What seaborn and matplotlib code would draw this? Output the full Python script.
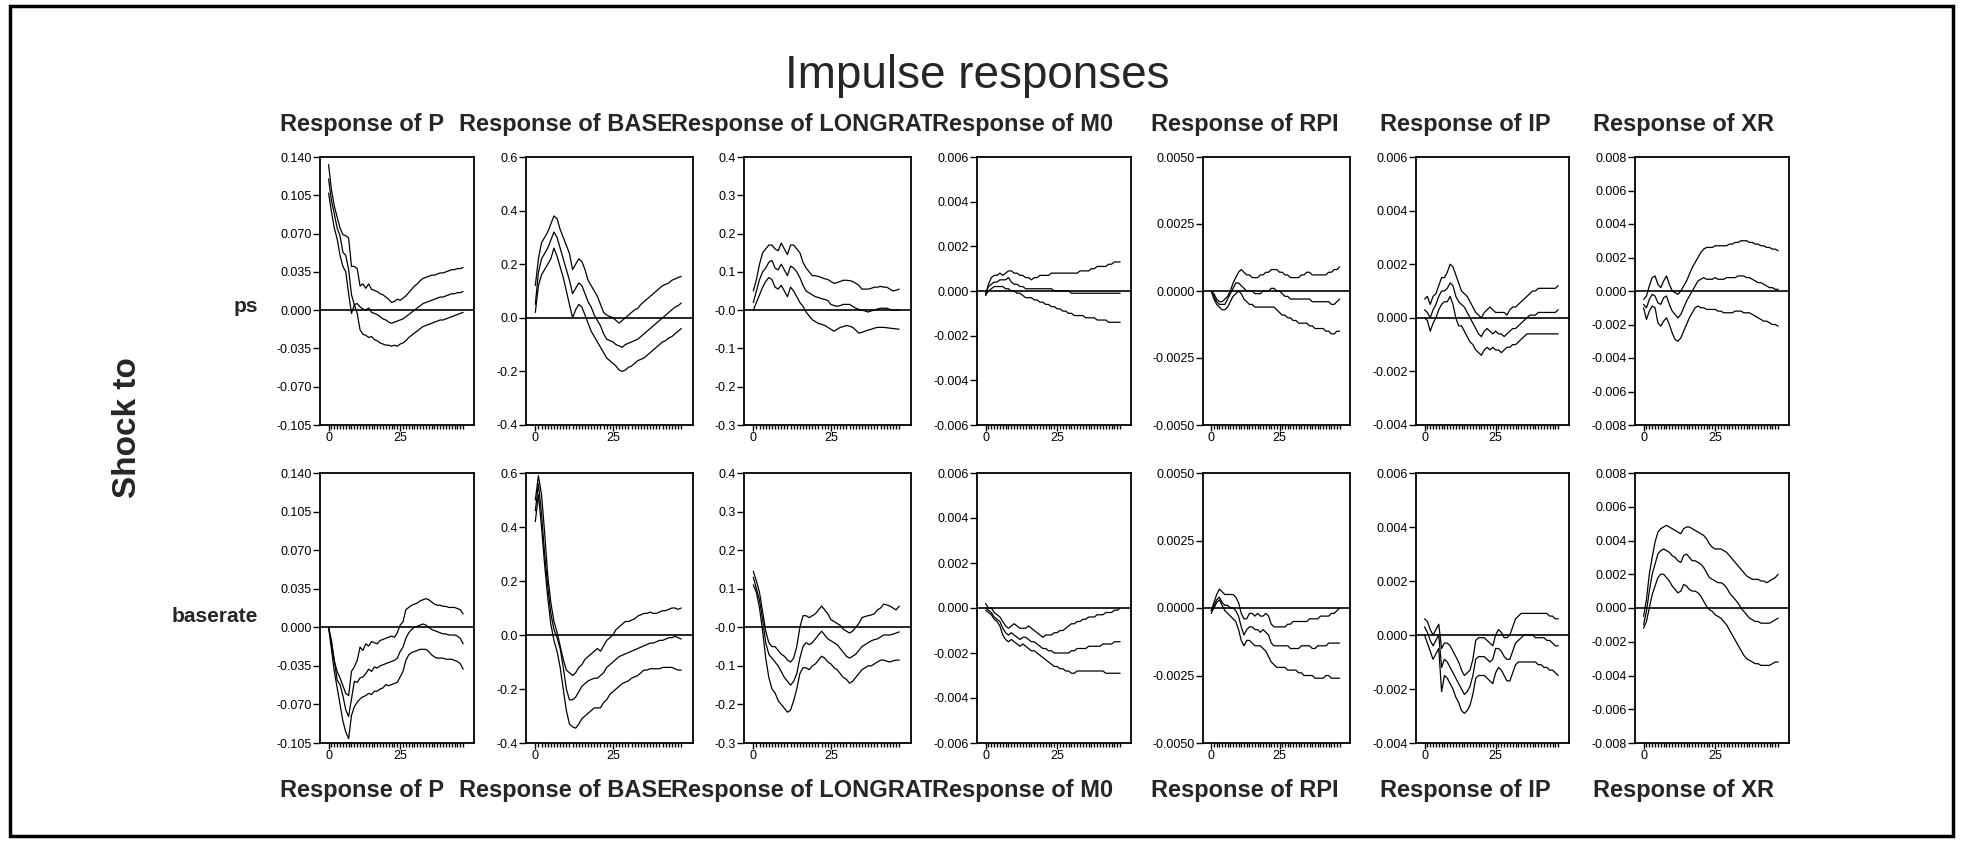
import numpy as np
import pandas as pd
import matplotlib
matplotlib.use("Agg")
import matplotlib.pyplot as plt
import seaborn as sns
from matplotlib.transforms import Bbox
from matplotlib.patches import Rectangle

# ---------------- data ----------------
title = "Impulse responses"
shock_label = "Shock to"
shocks = ["ps", "baserate"]
responses = ["P", "BASE", "LONGRATE", "M0", "RPI", "IP", "XR"]
header_text = ["Response of P", "Response of BASE", "Response of LONGRAT",
               "Response of M0", "Response of RPI", "Response of IP", "Response of XR"]

ytick_vals = {
    "P": [0.140, 0.105, 0.070, 0.035, 0.000, -0.035, -0.070, -0.105],
    "BASE": [0.6, 0.4, 0.2, 0.0, -0.2, -0.4],
    "LONGRATE": [0.4, 0.3, 0.2, 0.1, 0.0, -0.1, -0.2, -0.3],
    "M0": [0.006, 0.004, 0.002, 0.000, -0.002, -0.004, -0.006],
    "RPI": [0.0050, 0.0025, 0.0000, -0.0025, -0.0050],
    "IP": [0.006, 0.004, 0.002, 0.000, -0.002, -0.004],
    "XR": [0.008, 0.006, 0.004, 0.002, 0.000, -0.002, -0.004, -0.006, -0.008],
}
ytick_labels = {
    "P": ["0.140", "0.105", "0.070", "0.035", "0.000", "-0.035", "-0.070", "-0.105"],
    "BASE": ["0.6", "0.4", "0.2", "0.0", "-0.2", "-0.4"],
    "LONGRATE": ["0.4", "0.3", "0.2", "0.1", "-0.0", "-0.1", "-0.2", "-0.3"],
    "M0": ["0.006", "0.004", "0.002", "0.000", "-0.002", "-0.004", "-0.006"],
    "RPI": ["0.0050", "0.0025", "0.0000", "-0.0025", "-0.0050"],
    "IP": ["0.006", "0.004", "0.002", "0.000", "-0.002", "-0.004"],
    "XR": ["0.008", "0.006", "0.004", "0.002", "0.000", "-0.002", "-0.004", "-0.006", "-0.008"],
}
xtick_vals = [0, 25]
xtick_labels = ["0", "25"]

# shock ps
P_ps_up = [0.133,0.110,0.095,0.085,0.075,0.069,0.068,0.066,0.040,0.040,
 0.038,0.022,0.024,0.020,0.024,0.019,0.018,0.017,0.015,0.014,
 0.012,0.010,0.007,0.008,0.010,0.009,0.011,0.013,0.016,0.019,
 0.022,0.024,0.027,0.029,0.030,0.031,0.032,0.032,0.033,0.034,
 0.034,0.035,0.036,0.037,0.037,0.038,0.038,0.039]
P_ps_mid = [0.120,0.100,0.088,0.075,0.068,0.053,0.050,0.037,0.014,0.005,
 0.006,0.003,0.001,0.000,0.002,-0.002,-0.003,-0.004,-0.006,-0.008,
 -0.009,-0.011,-0.012,-0.011,-0.010,-0.009,-0.008,-0.006,-0.004,-0.002,
 0.000,0.002,0.004,0.006,0.007,0.008,0.009,0.010,0.011,0.012,
 0.012,0.013,0.014,0.015,0.015,0.016,0.016,0.017]
P_ps_lo = [0.107,0.090,0.075,0.065,0.050,0.040,0.035,0.015,-0.003,0.005,
 -0.003,-0.018,-0.022,-0.023,-0.025,-0.024,-0.027,-0.028,-0.030,-0.031,
 -0.032,-0.032,-0.033,-0.032,-0.033,-0.031,-0.030,-0.028,-0.025,-0.023,
 -0.021,-0.019,-0.017,-0.015,-0.014,-0.013,-0.012,-0.011,-0.010,-0.009,
 -0.009,-0.008,-0.007,-0.006,-0.005,-0.004,-0.003,-0.002]

BASE_ps_up = [0.12,0.22,0.28,0.30,0.32,0.35,0.38,0.37,0.33,0.30,
 0.27,0.24,0.18,0.20,0.22,0.21,0.18,0.14,0.12,0.10,
 0.08,0.05,0.02,0.01,0.005,0.00,-0.01,-0.02,-0.01,0.00,
 0.01,0.02,0.03,0.035,0.05,0.06,0.07,0.08,0.09,0.10,
 0.11,0.12,0.125,0.13,0.14,0.145,0.15,0.155]
BASE_ps_mid = [0.05,0.17,0.22,0.24,0.26,0.29,0.32,0.30,0.26,0.22,
 0.18,0.14,0.09,0.11,0.13,0.12,0.09,0.06,0.04,0.01,
 -0.01,-0.03,-0.06,-0.08,-0.085,-0.09,-0.10,-0.105,-0.11,-0.10,
 -0.095,-0.09,-0.085,-0.08,-0.07,-0.06,-0.05,-0.04,-0.03,-0.02,
 -0.01,0.00,0.01,0.02,0.03,0.04,0.045,0.055]
BASE_ps_lo = [0.02,0.12,0.16,0.18,0.20,0.22,0.26,0.23,0.19,0.15,
 0.10,0.05,0.00,0.03,0.05,0.04,0.01,-0.02,-0.05,-0.07,
 -0.09,-0.11,-0.13,-0.15,-0.16,-0.17,-0.18,-0.195,-0.20,-0.195,
 -0.185,-0.18,-0.17,-0.16,-0.155,-0.15,-0.14,-0.13,-0.12,-0.11,
 -0.10,-0.09,-0.085,-0.075,-0.07,-0.06,-0.05,-0.04]

LONG_ps_up = [0.05,0.08,0.12,0.15,0.16,0.17,0.17,0.16,0.155,0.175,
 0.16,0.145,0.17,0.17,0.16,0.15,0.125,0.11,0.10,0.09,
 0.09,0.088,0.085,0.082,0.08,0.075,0.07,0.072,0.075,0.078,
 0.078,0.077,0.075,0.07,0.065,0.055,0.055,0.055,0.057,0.06,
 0.06,0.062,0.06,0.06,0.055,0.05,0.052,0.055]
LONG_ps_mid = [0.02,0.05,0.08,0.10,0.11,0.125,0.13,0.11,0.105,0.12,
 0.105,0.09,0.115,0.11,0.10,0.085,0.065,0.05,0.045,0.04,
 0.035,0.033,0.03,0.028,0.025,0.015,0.012,0.01,0.012,0.015,
 0.015,0.015,0.01,0.005,0.002,0.0,-0.002,-0.005,-0.002,0.0,
 0.003,0.005,0.005,0.005,0.002,0.0,0.0,0.0]
LONG_ps_lo = [0.0,0.02,0.04,0.06,0.075,0.085,0.08,0.06,0.055,0.065,
 0.05,0.035,0.06,0.05,0.035,0.02,0.01,-0.005,-0.015,-0.025,
 -0.03,-0.035,-0.037,-0.04,-0.045,-0.05,-0.055,-0.05,-0.045,-0.043,
 -0.04,-0.042,-0.045,-0.052,-0.06,-0.058,-0.055,-0.052,-0.05,-0.047,
 -0.045,-0.045,-0.045,-0.046,-0.047,-0.048,-0.049,-0.05]

M0_ps_up = [-0.0002,0.0003,0.0006,0.0007,0.0007,0.0008,0.0007,0.0008,0.0009,0.0009,
 0.0008,0.0008,0.0007,0.0007,0.0006,0.0006,0.0005,0.0006,0.0006,0.0007,
 0.0007,0.0007,0.0007,0.0008,0.0008,0.0008,0.0008,0.0008,0.0008,0.0008,
 0.0008,0.0008,0.0008,0.0009,0.0009,0.0009,0.0009,0.0010,0.0010,0.0011,
 0.0011,0.0011,0.0011,0.0012,0.0012,0.0013,0.0013,0.0013]
M0_ps_mid = [-0.0001,0.0002,0.0003,0.0004,0.0004,0.0005,0.0005,0.0005,0.0006,0.0004,
 0.0003,0.0003,0.0002,0.0002,0.0001,0.0001,0.0001,0.0001,0.0001,0.0001,
 0.0001,0.0001,0.0001,0.0001,0.0000,0.0000,0.0000,0.0000,0.0000,0.0000,
 -0.0001,-0.0001,-0.0001,-0.0001,-0.0001,-0.0001,-0.0001,-0.0001,-0.0001,-0.0001,
 -0.0001,-0.0001,-0.0001,-0.0001,-0.0001,-0.0001,-0.0001,-0.0001]
M0_ps_lo = [-0.0002,0.0000,0.0001,0.0002,0.0002,0.0002,0.0002,0.0001,0.0001,0.0000,
 0.0000,-0.0001,-0.0001,-0.0002,-0.0003,-0.0003,-0.0003,-0.0004,-0.0004,-0.0005,
 -0.0005,-0.0006,-0.0006,-0.0007,-0.0007,-0.0008,-0.0008,-0.0009,-0.0009,-0.0010,
 -0.0010,-0.0011,-0.0011,-0.0011,-0.0011,-0.0012,-0.0012,-0.0012,-0.0012,-0.0013,
 -0.0013,-0.0013,-0.0013,-0.0014,-0.0014,-0.0014,-0.0014,-0.0014]

RPI_ps_up = [0.0000,-0.0001,-0.0003,-0.0004,-0.0004,-0.0003,-0.0002,0.0000,0.0003,0.0005,
 0.0007,0.0008,0.0007,0.0006,0.0006,0.0005,0.0005,0.0005,0.0006,0.0006,
 0.0007,0.0007,0.0008,0.0008,0.0008,0.0007,0.0007,0.0006,0.0006,0.0005,
 0.0005,0.0005,0.0005,0.0006,0.0006,0.0007,0.0007,0.0006,0.0006,0.0006,
 0.0006,0.0006,0.0006,0.0007,0.0007,0.0008,0.0008,0.0009]
RPI_ps_mid = [0.0000,-0.0002,-0.0004,-0.0005,-0.0005,-0.0005,-0.0003,-0.0001,0.0001,0.0003,
 0.0003,0.0002,0.0001,0.0000,0.0000,0.0000,-0.0001,-0.0001,-0.0001,0.0000,
 0.0000,0.0000,0.0001,0.0001,0.0000,0.0000,-0.0001,-0.0002,-0.0002,-0.0003,
 -0.0003,-0.0003,-0.0003,-0.0003,-0.0003,-0.0003,-0.0003,-0.0004,-0.0004,-0.0004,
 -0.0004,-0.0004,-0.0004,-0.0004,-0.0005,-0.0005,-0.0004,-0.0003]
RPI_ps_lo = [0.0000,-0.0003,-0.0005,-0.0006,-0.0007,-0.0007,-0.0006,-0.0004,-0.0002,-0.0001,
 0.0000,-0.0001,-0.0003,-0.0004,-0.0005,-0.0005,-0.0006,-0.0006,-0.0006,-0.0006,
 -0.0006,-0.0006,-0.0006,-0.0006,-0.0007,-0.0008,-0.0009,-0.0009,-0.0010,-0.0010,
 -0.0011,-0.0011,-0.0012,-0.0012,-0.0012,-0.0012,-0.0013,-0.0013,-0.0014,-0.0014,
 -0.0014,-0.0014,-0.0015,-0.0015,-0.0016,-0.0016,-0.0015,-0.0015]

IP_ps_up = [0.0007,0.0008,0.0005,0.0008,0.0009,0.0012,0.0015,0.0015,0.0017,0.0020,
 0.0019,0.0016,0.0013,0.0010,0.0009,0.0008,0.0006,0.0004,0.0002,0.0001,
 0.0000,0.0002,0.0003,0.0004,0.0003,0.0002,0.0002,0.0002,0.0002,0.0001,
 0.0003,0.0004,0.0004,0.0005,0.0006,0.0007,0.0008,0.0009,0.0010,0.0010,
 0.0011,0.0011,0.0011,0.0011,0.0011,0.0011,0.0011,0.0012]
IP_ps_mid = [0.0003,0.0002,0.0000,0.0003,0.0005,0.0008,0.0010,0.0010,0.0011,0.0013,
 0.0012,0.0008,0.0006,0.0005,0.0004,0.0002,0.0000,-0.0002,-0.0004,-0.0006,
 -0.0007,-0.0005,-0.0004,-0.0005,-0.0006,-0.0005,-0.0006,-0.0006,-0.0007,-0.0006,
 -0.0005,-0.0004,-0.0004,-0.0003,-0.0002,-0.0001,0.0000,0.0001,0.0001,0.0001,
 0.0002,0.0002,0.0002,0.0002,0.0002,0.0002,0.0002,0.0003]
IP_ps_lo = [0.0000,-0.0001,-0.0005,-0.0002,0.0000,0.0003,0.0005,0.0006,0.0006,0.0008,
 0.0005,0.0000,-0.0003,-0.0003,-0.0005,-0.0007,-0.0009,-0.0010,-0.0012,-0.0013,
 -0.0014,-0.0012,-0.0011,-0.0012,-0.0011,-0.0012,-0.0012,-0.0013,-0.0012,-0.0011,
 -0.0011,-0.0010,-0.0010,-0.0009,-0.0008,-0.0007,-0.0006,-0.0006,-0.0006,-0.0006,
 -0.0006,-0.0006,-0.0006,-0.0006,-0.0006,-0.0006,-0.0006,-0.0006]

XR_ps_up = [-0.0005,-0.0003,0.0003,0.0008,0.0009,0.0004,0.0002,0.0006,0.0009,0.0004,
 0.0000,-0.0001,-0.0002,0.0000,0.0003,0.0006,0.0010,0.0014,0.0017,0.0020,
 0.0023,0.0025,0.0026,0.0026,0.0026,0.0027,0.0027,0.0027,0.0027,0.0027,
 0.0028,0.0028,0.0029,0.0029,0.0030,0.0030,0.0030,0.0029,0.0029,0.0028,
 0.0028,0.0027,0.0027,0.0026,0.0026,0.0025,0.0025,0.0024]
XR_ps_mid = [-0.0008,-0.0010,-0.0005,-0.0002,-0.0003,-0.0007,-0.0008,-0.0004,-0.0003,-0.0008,
 -0.0012,-0.0014,-0.0016,-0.0014,-0.0010,-0.0006,-0.0003,0.0000,0.0003,0.0006,
 0.0007,0.0008,0.0007,0.0007,0.0007,0.0008,0.0007,0.0007,0.0007,0.0008,
 0.0008,0.0008,0.0008,0.0009,0.0009,0.0009,0.0008,0.0008,0.0007,0.0006,
 0.0005,0.0005,0.0004,0.0003,0.0002,0.0002,0.0001,0.0001]
XR_ps_lo = [-0.0010,-0.0017,-0.0012,-0.0009,-0.0010,-0.0019,-0.0021,-0.0018,-0.0016,-0.0020,
 -0.0025,-0.0029,-0.0030,-0.0028,-0.0024,-0.0020,-0.0016,-0.0013,-0.0010,-0.0009,
 -0.0010,-0.0010,-0.0011,-0.0011,-0.0011,-0.0011,-0.0012,-0.0012,-0.0013,-0.0013,
 -0.0013,-0.0013,-0.0012,-0.0012,-0.0012,-0.0013,-0.0013,-0.0013,-0.0014,-0.0015,
 -0.0016,-0.0017,-0.0018,-0.0018,-0.0019,-0.0020,-0.0020,-0.0021]

# shock baserate
P_br_up = [0.000,-0.012,-0.031,-0.040,-0.046,-0.053,-0.060,-0.062,-0.040,-0.036,
 -0.030,-0.018,-0.021,-0.015,-0.017,-0.013,-0.014,-0.015,-0.012,-0.011,
 -0.010,-0.009,-0.008,-0.009,-0.005,0.002,0.005,0.016,0.018,0.020,
 0.021,0.022,0.024,0.025,0.026,0.025,0.023,0.021,0.020,0.020,
 0.019,0.019,0.018,0.018,0.018,0.017,0.016,0.012]
P_br_mid = [0.000,-0.015,-0.030,-0.048,-0.052,-0.062,-0.075,-0.081,-0.065,-0.049,
 -0.050,-0.046,-0.045,-0.042,-0.038,-0.040,-0.036,-0.037,-0.035,-0.034,
 -0.033,-0.032,-0.031,-0.030,-0.028,-0.022,-0.018,-0.010,-0.005,-0.002,
 0.000,0.001,0.002,0.003,0.002,0.000,-0.002,-0.003,-0.004,-0.005,
 -0.006,-0.006,-0.007,-0.007,-0.007,-0.008,-0.010,-0.015]
P_br_lo = [0.000,-0.020,-0.040,-0.055,-0.070,-0.085,-0.095,-0.101,-0.080,-0.072,
 -0.068,-0.065,-0.063,-0.062,-0.060,-0.061,-0.058,-0.058,-0.056,-0.055,
 -0.052,-0.053,-0.052,-0.051,-0.050,-0.045,-0.040,-0.030,-0.025,-0.023,
 -0.022,-0.021,-0.020,-0.020,-0.020,-0.022,-0.025,-0.027,-0.028,-0.028,
 -0.028,-0.029,-0.029,-0.029,-0.030,-0.031,-0.033,-0.038]

BASE_br_up = [0.50,0.59,0.52,0.38,0.22,0.12,0.05,0.01,-0.04,-0.09,
 -0.13,-0.14,-0.15,-0.14,-0.12,-0.11,-0.09,-0.08,-0.07,-0.06,
 -0.05,-0.06,-0.04,-0.02,-0.01,0.00,0.02,0.03,0.04,0.05,
 0.05,0.055,0.06,0.07,0.075,0.08,0.08,0.085,0.08,0.08,
 0.085,0.09,0.09,0.095,0.10,0.10,0.095,0.10]
BASE_br_mid = [0.46,0.56,0.45,0.30,0.18,0.08,0.02,-0.01,-0.05,-0.12,
 -0.20,-0.24,-0.24,-0.23,-0.21,-0.19,-0.18,-0.17,-0.165,-0.16,
 -0.16,-0.15,-0.14,-0.12,-0.11,-0.10,-0.09,-0.08,-0.075,-0.07,
 -0.065,-0.06,-0.055,-0.05,-0.045,-0.04,-0.035,-0.03,-0.03,-0.025,
 -0.02,-0.02,-0.015,-0.01,-0.01,-0.005,-0.01,-0.015]
BASE_br_lo = [0.42,0.52,0.40,0.26,0.14,0.04,-0.02,-0.06,-0.12,-0.20,
 -0.28,-0.33,-0.34,-0.345,-0.33,-0.31,-0.30,-0.29,-0.28,-0.27,
 -0.27,-0.27,-0.25,-0.24,-0.22,-0.21,-0.20,-0.19,-0.18,-0.175,
 -0.17,-0.16,-0.155,-0.15,-0.14,-0.13,-0.13,-0.125,-0.125,-0.125,
 -0.125,-0.12,-0.12,-0.12,-0.12,-0.125,-0.13,-0.13]

LONG_br_up = [0.145,0.12,0.09,0.04,-0.01,-0.04,-0.05,-0.05,-0.06,-0.07,
 -0.075,-0.085,-0.09,-0.08,-0.05,0.0,0.03,0.03,0.025,0.03,
 0.035,0.045,0.055,0.045,0.035,0.02,0.015,0.01,0.005,-0.005,
 -0.01,-0.015,-0.01,0.0,0.01,0.025,0.028,0.03,0.032,0.035,
 0.045,0.05,0.06,0.058,0.055,0.05,0.045,0.055]
LONG_br_mid = [0.13,0.10,0.07,0.02,-0.04,-0.07,-0.08,-0.09,-0.10,-0.115,
 -0.13,-0.14,-0.15,-0.14,-0.12,-0.08,-0.05,-0.04,-0.045,-0.04,
 -0.03,-0.02,-0.01,-0.02,-0.03,-0.035,-0.04,-0.045,-0.055,-0.065,
 -0.075,-0.08,-0.075,-0.07,-0.06,-0.05,-0.045,-0.04,-0.035,-0.032,
 -0.03,-0.025,-0.02,-0.02,-0.02,-0.018,-0.015,-0.012]
LONG_br_lo = [0.11,0.09,0.05,-0.01,-0.08,-0.13,-0.16,-0.17,-0.19,-0.20,
 -0.21,-0.22,-0.215,-0.19,-0.16,-0.12,-0.105,-0.105,-0.11,-0.10,
 -0.095,-0.085,-0.075,-0.08,-0.09,-0.095,-0.105,-0.11,-0.12,-0.13,
 -0.135,-0.145,-0.14,-0.13,-0.12,-0.11,-0.105,-0.10,-0.10,-0.095,
 -0.09,-0.085,-0.085,-0.088,-0.09,-0.087,-0.085,-0.085]

M0_br_up = [0.0002,0.0000,0.0000,-0.0002,-0.0003,-0.0004,-0.0006,-0.0008,-0.0009,-0.0008,
 -0.0007,-0.0008,-0.0009,-0.0009,-0.0009,-0.0008,-0.0009,-0.0010,-0.0011,-0.0012,
 -0.0013,-0.0012,-0.0012,-0.0012,-0.0011,-0.0011,-0.0010,-0.0010,-0.0009,-0.0008,
 -0.0007,-0.0007,-0.0006,-0.0006,-0.0005,-0.0005,-0.0004,-0.0004,-0.0004,-0.0003,
 -0.0003,-0.0003,-0.0002,-0.0002,-0.0002,-0.0001,-0.0001,0.0000]
M0_br_mid = [0.0000,-0.0001,-0.0002,-0.0004,-0.0005,-0.0006,-0.0009,-0.0011,-0.0012,-0.0011,
 -0.0012,-0.0013,-0.0014,-0.0013,-0.0013,-0.0014,-0.0015,-0.0015,-0.0016,-0.0017,
 -0.0018,-0.0018,-0.0019,-0.0019,-0.0020,-0.0020,-0.0020,-0.0020,-0.0020,-0.0020,
 -0.0019,-0.0019,-0.0018,-0.0018,-0.0018,-0.0018,-0.0017,-0.0017,-0.0017,-0.0017,
 -0.0017,-0.0016,-0.0016,-0.0016,-0.0016,-0.0015,-0.0015,-0.0015]
M0_br_lo = [-0.0001,-0.0002,-0.0003,-0.0005,-0.0006,-0.0008,-0.0012,-0.0014,-0.0015,-0.0014,
 -0.0015,-0.0016,-0.0017,-0.0016,-0.0017,-0.0018,-0.0019,-0.0019,-0.0020,-0.0021,
 -0.0022,-0.0023,-0.0024,-0.0025,-0.0026,-0.0026,-0.0027,-0.0027,-0.0028,-0.0028,
 -0.0029,-0.0029,-0.0028,-0.0028,-0.0028,-0.0028,-0.0028,-0.0028,-0.0028,-0.0028,
 -0.0028,-0.0028,-0.0029,-0.0029,-0.0029,-0.0029,-0.0029,-0.0029]

RPI_br_up = [-0.0001,0.0002,0.0005,0.0007,0.0006,0.0005,0.0005,0.0005,0.0005,0.0004,
 0.0002,-0.0002,-0.0004,-0.0004,-0.0002,-0.0002,-0.0003,-0.0002,-0.0003,-0.0003,
 -0.0002,-0.0003,-0.0006,-0.0007,-0.0007,-0.0007,-0.0007,-0.0007,-0.0006,-0.0006,
 -0.0005,-0.0005,-0.0005,-0.0005,-0.0005,-0.0005,-0.0004,-0.0004,-0.0004,-0.0004,
 -0.0003,-0.0003,-0.0003,-0.0003,-0.0002,-0.0002,-0.0001,0.0000]
RPI_br_mid = [-0.0001,0.0001,0.0003,0.0004,0.0002,0.0001,0.0001,0.0000,0.0000,-0.0001,
 -0.0003,-0.0007,-0.0010,-0.0008,-0.0007,-0.0007,-0.0008,-0.0008,-0.0009,-0.0008,
 -0.0009,-0.0010,-0.0013,-0.0014,-0.0014,-0.0014,-0.0014,-0.0014,-0.0014,-0.0015,
 -0.0015,-0.0015,-0.0015,-0.0014,-0.0014,-0.0014,-0.0014,-0.0015,-0.0015,-0.0014,
 -0.0014,-0.0014,-0.0014,-0.0013,-0.0013,-0.0013,-0.0013,-0.0013]
RPI_br_lo = [-0.0002,0.0000,0.0002,0.0003,0.0001,-0.0001,-0.0002,-0.0003,-0.0004,-0.0005,
 -0.0008,-0.0012,-0.0014,-0.0012,-0.0012,-0.0013,-0.0014,-0.0014,-0.0014,-0.0015,
 -0.0016,-0.0018,-0.0020,-0.0021,-0.0022,-0.0022,-0.0022,-0.0022,-0.0023,-0.0023,
 -0.0023,-0.0023,-0.0024,-0.0024,-0.0025,-0.0025,-0.0025,-0.0025,-0.0026,-0.0026,
 -0.0026,-0.0026,-0.0025,-0.0025,-0.0026,-0.0026,-0.0026,-0.0026]

IP_br_up = [0.0006,0.0005,0.0002,0.0000,0.0002,0.0004,-0.0005,-0.0003,-0.0003,-0.0004,
 -0.0006,-0.0008,-0.0010,-0.0013,-0.0015,-0.0014,-0.0013,-0.0009,-0.0002,-0.0001,
 -0.0001,-0.0001,-0.0002,-0.0003,-0.0004,0.0000,0.0002,0.0001,-0.0001,-0.0001,
 0.0000,0.0003,0.0006,0.0007,0.0008,0.0008,0.0008,0.0008,0.0008,0.0008,
 0.0008,0.0008,0.0008,0.0008,0.0007,0.0007,0.0006,0.0006]
IP_br_mid = [0.0003,0.0001,-0.0002,-0.0004,-0.0002,0.0000,-0.0012,-0.0009,-0.0010,-0.0012,
 -0.0014,-0.0016,-0.0018,-0.0020,-0.0022,-0.0021,-0.0019,-0.0015,-0.0009,-0.0008,
 -0.0008,-0.0008,-0.0009,-0.0010,-0.0009,-0.0005,-0.0005,-0.0006,-0.0008,-0.0009,
 -0.0009,-0.0006,-0.0003,-0.0002,-0.0001,0.0000,0.0000,0.0000,0.0000,-0.0001,
 -0.0001,-0.0001,-0.0001,-0.0002,-0.0002,-0.0003,-0.0004,-0.0004]
IP_br_lo = [0.0000,-0.0003,-0.0006,-0.0009,-0.0007,-0.0005,-0.0021,-0.0015,-0.0016,-0.0018,
 -0.0020,-0.0023,-0.0025,-0.0028,-0.0029,-0.0028,-0.0026,-0.0022,-0.0016,-0.0015,
 -0.0015,-0.0015,-0.0016,-0.0017,-0.0018,-0.0014,-0.0012,-0.0013,-0.0015,-0.0017,
 -0.0017,-0.0014,-0.0011,-0.0010,-0.0010,-0.0010,-0.0010,-0.0010,-0.0010,-0.0010,
 -0.0011,-0.0011,-0.0012,-0.0012,-0.0013,-0.0013,-0.0014,-0.0015]

XR_br_up = [-0.0005,0.0005,0.0020,0.0030,0.0039,0.0045,0.0047,0.0048,0.0049,0.0048,
 0.0047,0.0046,0.0045,0.0044,0.0047,0.0048,0.0048,0.0047,0.0046,0.0045,
 0.0044,0.0043,0.0041,0.0038,0.0036,0.0035,0.0035,0.0035,0.0034,0.0033,
 0.0031,0.0029,0.0027,0.0025,0.0023,0.0021,0.0019,0.0018,0.0017,0.0017,
 0.0017,0.0016,0.0016,0.0015,0.0016,0.0017,0.0018,0.0020]
XR_br_mid = [-0.0010,-0.0002,0.0010,0.0020,0.0026,0.0032,0.0034,0.0035,0.0034,0.0033,
 0.0031,0.0030,0.0028,0.0027,0.0031,0.0032,0.0030,0.0028,0.0028,0.0027,
 0.0026,0.0024,0.0021,0.0018,0.0017,0.0016,0.0015,0.0015,0.0014,0.0012,
 0.0009,0.0007,0.0005,0.0003,0.0000,-0.0002,-0.0004,-0.0006,-0.0007,-0.0008,
 -0.0008,-0.0009,-0.0009,-0.0009,-0.0009,-0.0008,-0.0007,-0.0006]
XR_br_lo = [-0.0012,-0.0008,0.0000,0.0008,0.0013,0.0018,0.0020,0.0020,0.0018,0.0016,
 0.0013,0.0011,0.0009,0.0010,0.0014,0.0013,0.0011,0.0010,0.0010,0.0009,
 0.0007,0.0004,0.0001,-0.0001,-0.0002,-0.0004,-0.0005,-0.0006,-0.0008,-0.0010,
 -0.0013,-0.0016,-0.0019,-0.0022,-0.0025,-0.0028,-0.0030,-0.0031,-0.0032,-0.0033,
 -0.0033,-0.0034,-0.0034,-0.0034,-0.0034,-0.0033,-0.0032,-0.0032]

series = {
    ("ps", "P"): (P_ps_lo, P_ps_mid, P_ps_up),
    ("ps", "BASE"): (BASE_ps_lo, BASE_ps_mid, BASE_ps_up),
    ("ps", "LONGRATE"): (LONG_ps_lo, LONG_ps_mid, LONG_ps_up),
    ("ps", "M0"): (M0_ps_lo, M0_ps_mid, M0_ps_up),
    ("ps", "RPI"): (RPI_ps_lo, RPI_ps_mid, RPI_ps_up),
    ("ps", "IP"): (IP_ps_lo, IP_ps_mid, IP_ps_up),
    ("ps", "XR"): (XR_ps_lo, XR_ps_mid, XR_ps_up),
    ("baserate", "P"): (P_br_lo, P_br_mid, P_br_up),
    ("baserate", "BASE"): (BASE_br_lo, BASE_br_mid, BASE_br_up),
    ("baserate", "LONGRATE"): (LONG_br_lo, LONG_br_mid, LONG_br_up),
    ("baserate", "M0"): (M0_br_lo, M0_br_mid, M0_br_up),
    ("baserate", "RPI"): (RPI_br_lo, RPI_br_mid, RPI_br_up),
    ("baserate", "IP"): (IP_br_lo, IP_br_mid, IP_br_up),
    ("baserate", "XR"): (XR_br_lo, XR_br_mid, XR_br_up),
}

# ---------------- layout ----------------
sns.set_style("white")
plt.rcParams["font.family"] = ["Liberation Sans", "DejaVu Sans"]

W, H = 1962, 842
fig = plt.figure(figsize=(W / 100, H / 100), dpi=100)

def rect(l, t, r, b):
    return [l / W, 1 - b / H, (r - l) / W, (b - t) / H]

col_px = [(320, 474), (526, 693), (744, 911), (977, 1131), (1203, 1350), (1416, 1569), (1635, 1789)]
row_px = [(157, 425), (473, 743)]
header_x = [280, 459, 671, 932, 1151, 1380, 1593, 1850]

for ri, shock in enumerate(shocks):
    t, b = row_px[ri]
    for ci, resp in enumerate(responses):
        l, r = col_px[ci]
        ax = fig.add_axes(rect(l, t, r, b))
        lo, mid, up = series[(shock, resp)]
        for vals in (lo, mid, up):
            df = pd.DataFrame({"h": np.arange(len(vals)), "v": vals})
            sns.lineplot(data=df, x="h", y="v", ax=ax, color="black",
                         linewidth=0.9, estimator=None)
        ax.axhline(0, color="black", linewidth=1.2)
        yt = ytick_vals[resp]
        ax.set_ylim(min(yt), max(yt))
        ax.set_yticks(yt)
        ax.set_yticklabels(ytick_labels[resp])
        ax.set_xlim(-3, 50.8)
        ax.set_xticks(xtick_vals)
        ax.set_xticklabels(xtick_labels)
        ax.set_xticks(np.arange(0, 48), minor=True)
        ax.set_xlabel("")
        ax.set_ylabel("")
        for s in ax.spines.values():
            s.set_visible(True)
            s.set_color("black")
            s.set_linewidth(1.3)
        ax.tick_params(axis="y", which="major", direction="out", length=5, width=1,
                       pad=1, labelsize=9, left=True, colors="black")
        ax.tick_params(axis="x", which="major", direction="out", length=4, width=1,
                       pad=1, labelsize=9, bottom=True, colors="black")
        ax.tick_params(axis="x", which="minor", direction="out", length=3, width=1,
                       bottom=True, colors="black")

# title
fig.text(977 / W, 1 - 76 / H, title, ha="center", va="center", fontsize=33)

# column headers (clipped to their cells like the original)
for yy in (125, 790):
    for ci, txt in enumerate(header_text):
        tx = fig.text(header_x[ci] / W, 1 - yy / H, txt, ha="left", va="center",
                      fontsize=17, fontweight="bold")
        x0 = header_x[ci]
        x1 = header_x[ci + 1]
        tx.set_clip_box(Bbox.from_extents(x0, H - yy - 30, x1, H - yy + 30))
        tx.set_clip_on(True)

# row labels
fig.text(258 / W, 1 - 306 / H, shocks[0], ha="right", va="center",
         fontsize=15, fontweight="bold")
fig.text(258 / W, 1 - 617 / H, shocks[1], ha="right", va="center",
         fontsize=15, fontweight="bold")
fig.text(127 / W, 1 - 428 / H, shock_label, ha="center", va="center",
         rotation=90, fontsize=24, fontweight="bold")

# outer frame
fig.patches.append(Rectangle((10 / W, 6 / H), (1953 - 10) / W, (836 - 6) / H,
                             transform=fig.transFigure, fill=False,
                             edgecolor="black", linewidth=2.5))

fig.savefig("out.png", dpi=100, facecolor="white")
